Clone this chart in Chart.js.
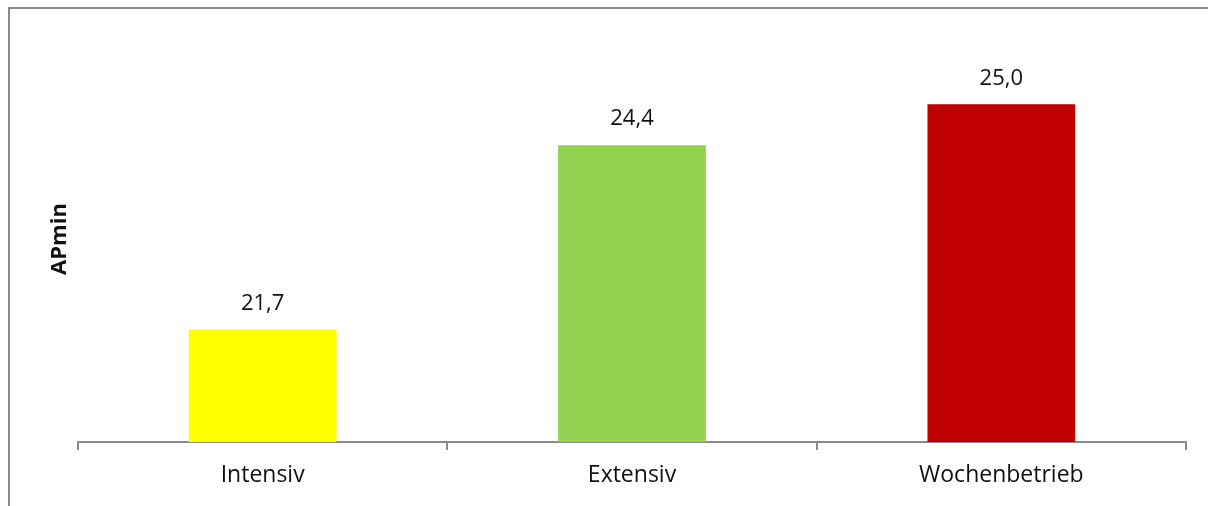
<!DOCTYPE html>
<html>
<head>
<meta charset="utf-8">
<script src="https://cdn.jsdelivr.net/npm/chart.js@4/dist/chart.umd.min.js"></script>
<style>
  html, body { margin: 0; padding: 0; background: #fff; overflow: hidden; }
  #wrap { width: 1208px; height: 506px; }
</style>
</head>
<body>
<div id="wrap"><canvas id="chartAP" width="1208" height="506"></canvas></div>
<script>
const categories = ['Intensiv', 'Extensiv', 'Wochenbetrieb'];
const apminValues = [21.7, 24.4, 25.0];
const barColors = ['#FFFF00', '#92D050', '#C00000'];
const yRange = [20.05, 26];

const FONT = "'Open Sans', 'Noto Sans', sans-serif";
const GRAY = '#8a8a8a';

// outer frame around the chart
const framePlugin = {
  id: 'frame',
  beforeDraw(chart) {
    const c = chart.ctx;
    c.save();
    c.strokeStyle = GRAY;
    c.lineWidth = 2;
    c.strokeRect(9, 8, 1400, 700);
    c.restore();
  }
};

// value labels above each bar, decimal comma
const valueLabels = {
  id: 'valueLabels',
  afterDatasetsDraw(chart) {
    const c = chart.ctx;
    const meta = chart.getDatasetMeta(0);
    c.save();
    c.font = '22px ' + FONT;
    c.fillStyle = '#111';
    c.textAlign = 'center';
    c.textBaseline = 'middle';
    meta.data.forEach((bar, i) => {
      const txt = apminValues[i].toFixed(1).replace('.', ',');
      c.fillText(txt, bar.x, bar.y - 26);
    });
    c.restore();
  }
};

const ctx = document.getElementById('chartAP').getContext('2d');

new Chart(ctx, {
  type: 'bar',
  data: {
    labels: categories,
    datasets: [{
      label: 'APmin',
      data: apminValues,
      backgroundColor: barColors,
      borderWidth: 0,
      barPercentage: 0.4,
      categoryPercentage: 1.0
    }]
  },
  options: {
    responsive: false,
    animation: false,
    layout: { padding: { left: 0, right: 22, top: 36, bottom: 0 } },
    plugins: {
      legend: { display: false },
      tooltip: { enabled: false }
    },
    scales: {
      x: {
        grid: {
          drawOnChartArea: false,
          drawTicks: true,
          tickLength: 8,
          color: GRAY,
          lineWidth: 2
        },
        border: { color: GRAY, width: 2 },
        ticks: {
          color: '#111',
          padding: 12,
          font: { family: FONT, size: 23 }
        },
        afterFit(s) { s.height = 64; }
      },
      y: {
        min: yRange[0],
        max: yRange[1],
        grid: { display: false },
        border: { display: false },
        ticks: { display: false },
        title: {
          display: true,
          text: 'APmin',
          color: '#111',
          font: { family: FONT, size: 22, weight: 'bold' },
          padding: { top: 47, bottom: 0 }
        },
        afterFit(s) { s.width = 78; }
      }
    }
  },
  plugins: [framePlugin, valueLabels]
});
</script>
</body>
</html>
